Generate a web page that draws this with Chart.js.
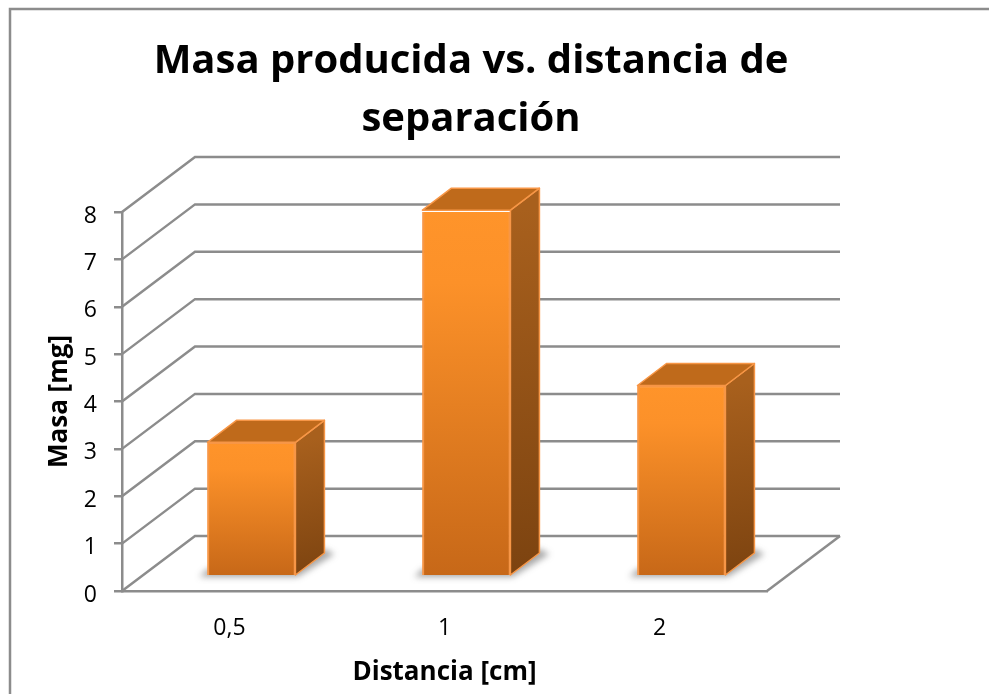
<!DOCTYPE html>
<html lang="es">
<head>
<meta charset="UTF-8">
<title>Masa producida vs. distancia de separación</title>
<script src="https://cdn.jsdelivr.net/npm/chart.js@4/dist/chart.umd.js"></script>
<style>
  html, body { margin: 0; background: #fff; }
  canvas { display: block; }
</style>
</head>
<body>
<canvas id="chart" width="989" height="694"></canvas>
<script>
const distancias = ['0,5', '1', '2'];
const masa = [2.8, 7.7, 4.0];
const tituloLineas = ['Masa producida vs. distancia de', 'separación'];
const tituloX = 'Distancia [cm]';
const tituloY = 'Masa [mg]';

const FONT = '"Open Sans", sans-serif';
const GREY = '#8c8c8c';
// depth of the box behind the axes, and of each bar
const WALL_DX = 73, WALL_DY = 55;
const BAR_DX = 29, BAR_DY = 22;

function poly(ctx, pts) {
  ctx.beginPath();
  pts.forEach((p, i) => i ? ctx.lineTo(p[0], p[1]) : ctx.moveTo(p[0], p[1]));
  ctx.closePath();
}

const box3d = {
  id: 'box3d',
  beforeDraw(chart) {
    // outer frame, only top and left are visible in the picture
    const ctx = chart.ctx;
    ctx.save();
    ctx.strokeStyle = GREY;
    ctx.lineWidth = 2.5;
    ctx.beginPath();
    ctx.moveTo(10, chart.height);
    ctx.lineTo(10, 9);
    ctx.lineTo(chart.width, 9);
    ctx.stroke();
    ctx.restore();
  },
  beforeDatasetsDraw(chart) {
    const ctx = chart.ctx;
    const { x, y } = chart.scales;
    const left = x.left, right = x.right;
    ctx.save();
    ctx.strokeStyle = GREY;
    ctx.lineWidth = 2.5;
    y.ticks.forEach(t => {
      const py = y.getPixelForValue(t.value);
      ctx.beginPath();
      ctx.moveTo(left, py);
      ctx.lineTo(left + WALL_DX, py - WALL_DY);
      ctx.lineTo(right + WALL_DX, py - WALL_DY);
      ctx.stroke();
    });
    const py0 = y.getPixelForValue(0);
    ctx.beginPath();
    ctx.moveTo(right, py0);
    ctx.lineTo(right + WALL_DX, py0 - WALL_DY);
    ctx.stroke();

    // bars: floor shadow, side and top faces, the front comes from the library
    chart.getDatasetMeta(0).data.forEach(bar => {
      const l = bar.x - bar.width / 2, r = bar.x + bar.width / 2;
      const t = bar.y, b = bar.base;

      ctx.save();
      ctx.filter = 'blur(3px)';
      ctx.fillStyle = 'rgba(60,60,60,0.45)';
      poly(ctx, [[l - 8, b + 2], [r + 2, b + 2], [r + BAR_DX + 10, b - BAR_DY + 1],
                 [r + BAR_DX, b - BAR_DY - 4], [l, b - 6]]);
      ctx.fill();
      ctx.restore();

      const side = ctx.createLinearGradient(r, t, r + BAR_DX, b);
      side.addColorStop(0, '#a8601d');
      side.addColorStop(1, '#7c4310');
      ctx.fillStyle = side;
      ctx.strokeStyle = '#f79646';
      ctx.lineWidth = 1.5;
      ctx.lineJoin = 'round';
      poly(ctx, [[r, t], [r + BAR_DX, t - BAR_DY], [r + BAR_DX, b - BAR_DY], [r, b]]);
      ctx.fill();
      ctx.stroke();

      ctx.fillStyle = '#bf6a1b';
      poly(ctx, [[l, t], [l + BAR_DX, t - BAR_DY], [r + BAR_DX, t - BAR_DY], [r, t]]);
      ctx.fill();
      ctx.stroke();
    });
    ctx.restore();
  }
};

new Chart(document.getElementById('chart'), {
  type: 'bar',
  data: {
    labels: distancias,
    datasets: [{
      label: 'Masa',
      data: masa.map((v, i) => ({ x: i, y: v })),
      xAxisID: 'xBars',
      yAxisID: 'yBars',
      barThickness: 88,
      borderWidth: 2,
      borderColor: '#f79646',
      backgroundColor(c) {
        const s = c.chart.scales.yBars;
        if (!s || c.dataIndex === undefined) return '#e57f23';
        const y0 = s.getPixelForValue(masa[c.dataIndex]), y1 = s.getPixelForValue(0);
        // scales have no size yet on the first pass
        if (!Number.isFinite(y0) || !Number.isFinite(y1)) return '#e57f23';
        const g = c.chart.ctx.createLinearGradient(0, y0, 0, y1);
        g.addColorStop(0, '#ff942a');
        g.addColorStop(0.2, '#fc9129');
        g.addColorStop(1, '#c76818');
        return g;
      }
    }]
  },
  plugins: [box3d],
  options: {
    responsive: false,
    animation: false,
    layout: { padding: { left: 0, right: 47, top: 33, bottom: 0 } },
    plugins: {
      legend: { display: false },
      tooltip: { enabled: false },
      title: {
        display: true,
        text: tituloLineas,
        color: '#000',
        font: { family: FONT, size: 40, weight: 'bold', lineHeight: 1.45 },
        padding: { top: 0, bottom: 63 }
      }
    },
    scales: {
      x: {
        type: 'category',
        offset: true,
        afterFit(s) { s.height = 103; },
        grid: { drawOnChartArea: false, drawTicks: false },
        border: { color: GREY, width: 2.5 },
        ticks: { color: '#000', padding: 24, font: { family: FONT, size: 23 } },
        title: { display: true, text: tituloX, color: '#000', padding: { top: 3, bottom: 6 }, font: { family: FONT, size: 26, weight: 'bold' } }
      },
      y: {
        type: 'linear',
        min: 0,
        max: 8,
        afterFit(s) { s.width = 122; },
        grid: { drawOnChartArea: false, color: GREY, lineWidth: 2.5, tickLength: 8 },
        border: { color: GREY, width: 2.5 },
        ticks: { stepSize: 1, color: '#000', padding: 17, labelOffset: 4, font: { family: FONT, size: 23 } },
        title: { display: true, text: tituloY, color: '#000', padding: { top: 44 }, font: { family: FONT, size: 26, weight: 'bold' } }
      },
      // hidden scales for the bars: they stand a bit inside the floor, not on the front axis
      xBars: { type: 'linear', display: false, offset: false, min: -0.602, max: 2.398 },
      yBars: {
        type: 'linear',
        position: 'right',
        min: -0.3376,
        max: 7.6624,
        afterFit(s) { s.width = 175; },
        grid: { display: false },
        border: { display: false },
        ticks: { display: false }
      }
    }
  }
});
</script>
</body>
</html>
